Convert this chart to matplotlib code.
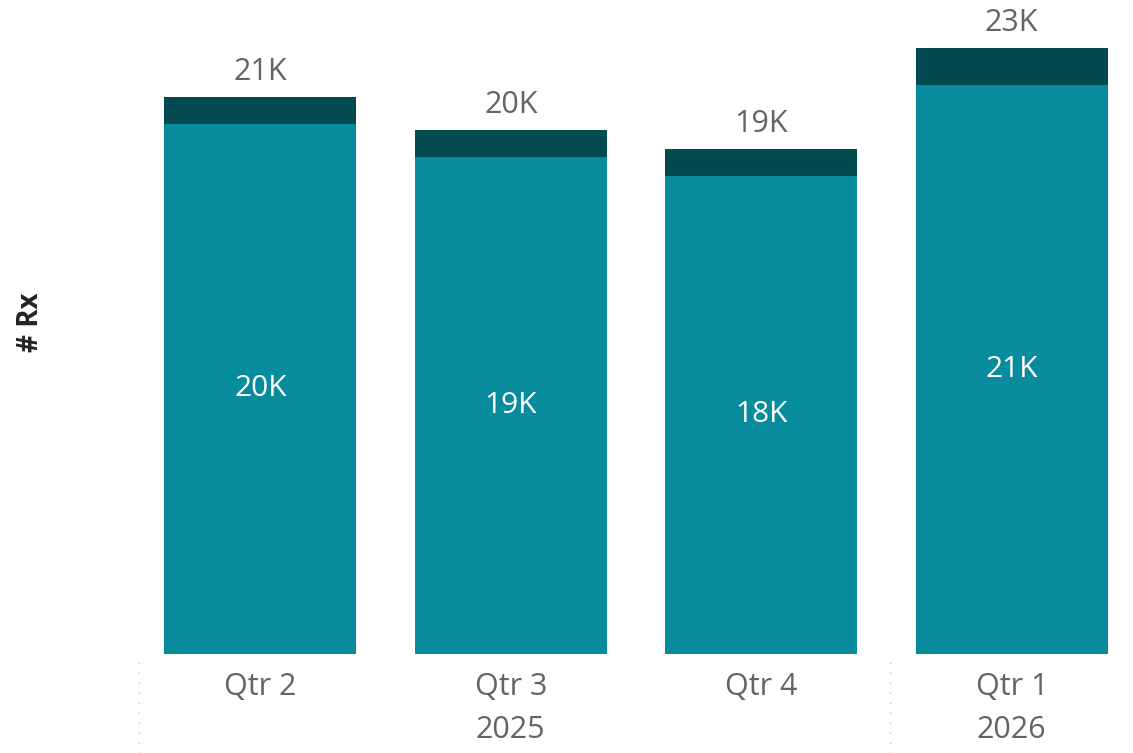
import matplotlib.pyplot as plt
from matplotlib.transforms import blended_transform_factory

quarters = ["Qtr 2", "Qtr 3", "Qtr 4", "Qtr 1"]
years = ["2025", "2026"]
year_pos = [1, 3]
base = [20000, 18750, 18040, 21470]
extra = [1020, 1020, 1020, 1400]
inner_labels = ["20K", "19K", "18K", "21K"]
total_labels = ["21K", "20K", "19K", "23K"]

light = "#068c9d"
dark = "#034a50"
grey = "#666462"

plt.rcParams['font.family'] = ['Open Sans', 'DejaVu Sans']

fig = plt.figure(figsize=(11.33, 7.53), dpi=100)
ax = fig.add_axes([135 / 1133, 99 / 753, 998 / 1133, 654 / 753])

x = list(range(len(quarters)))
ax.bar(x, base, width=0.766, color=light)
ax.bar(x, extra, width=0.766, bottom=base, color=dark)

ax.set_xlim(-0.5, -0.5 + 998 / 250.5)
ax.set_ylim(0, 654 / 26.5 * 1000)

for i in x:
    ax.text(i, base[i] / 2, inner_labels[i], ha='center', va='center',
            color='white', fontsize=21.5)
    ax.annotate(total_labels[i], (i, base[i] + extra[i]), xytext=(0, 7),
                textcoords='offset points', ha='center', va='bottom',
                color=grey, fontsize=22)

ax.set_xticks(x)
ax.set_xticklabels(quarters, fontsize=22, color=grey)
ax.tick_params(axis='x', length=0, pad=13)
ax.set_yticks([])
for s in ax.spines.values():
    s.set_visible(False)

tr = blended_transform_factory(ax.transData, ax.transAxes)
for p, yr in zip(year_pos, years):
    ax.text(p, -0.1155, yr, transform=tr, ha='center', va='center',
            fontsize=22, color=grey)

for sep in [-0.485, 2.515]:
    ax.plot([sep, sep], [-0.012, -0.155], transform=tr, clip_on=False,
            color="#c4c4c4", lw=1.0, ls=(0, (1, 6.2)))

fig.text(30 / 1133, 1 - 322 / 753, "# Rx", rotation=90, ha='center',
         va='center', fontsize=20, fontweight='bold', color="#252423")

fig.savefig("out.png", dpi=100)
